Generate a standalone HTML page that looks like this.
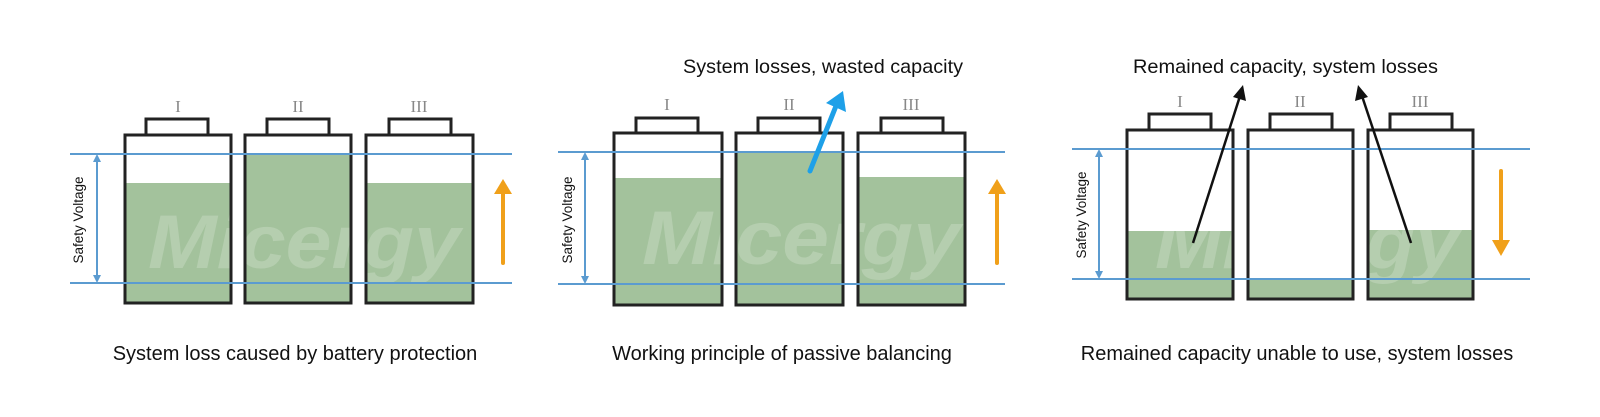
<!DOCTYPE html>
<html><head><meta charset="utf-8"><style>
html,body{margin:0;padding:0;background:#fff;}
svg{display:block;}
text{font-family:"Liberation Sans",sans-serif;}
.rn{font-family:"Liberation Serif",serif;font-size:17px;fill:#888;text-anchor:middle;}
.bat{fill:none;stroke:#222;stroke-width:3;}
.fill{fill:#a3c29c;}
.bl{stroke:#5b9bd0;stroke-width:2;}
.wm{font-weight:bold;font-style:italic;font-size:76px;fill:#fff;fill-opacity:0.2;}
.cap{font-size:20px;fill:#111;text-anchor:middle;}
.sv{font-size:13.5px;fill:#111;}
</style></head><body>
<svg width="1600" height="417" viewBox="0 0 1600 417" xmlns="http://www.w3.org/2000/svg">
<defs>
<marker id="ab" markerWidth="8" markerHeight="8" refX="4" refY="4" orient="auto-start-reverse" markerUnits="userSpaceOnUse"><path d="M0,0 L8,4 L0,8 Z" fill="#5b9bd0"/></marker>
</defs>

<!-- Panel 1 -->
<rect class="fill" x="125" y="183" width="106" height="120"/>
<rect class="fill" x="245" y="154" width="106" height="149"/>
<rect class="fill" x="366" y="183" width="107" height="120"/>
<text class="wm" x="148" y="268" textLength="312" lengthAdjust="spacingAndGlyphs">Micergy</text>
<g class="bat">
<rect x="125" y="135" width="106" height="168"/><rect x="146" y="119" width="62" height="16"/>
<rect x="245" y="135" width="106" height="168"/><rect x="267" y="119" width="62" height="16"/>
<rect x="366" y="135" width="107" height="168"/><rect x="389" y="119" width="62" height="16"/>
</g>
<text class="rn" x="178" y="112">I</text><text class="rn" x="298" y="112">II</text><text class="rn" x="419" y="112">III</text>
<line class="bl" x1="70" y1="154" x2="512" y2="154"/>
<line class="bl" x1="70" y1="283" x2="512" y2="283"/>
<line class="bl" x1="97" y1="158" x2="97" y2="279" marker-start="url(#ab)" marker-end="url(#ab)"/>
<text class="sv" transform="translate(83,220) rotate(-90)" text-anchor="middle">Safety Voltage</text>
<line x1="503" y1="263" x2="503" y2="192" stroke="#f0a01a" stroke-width="4" stroke-linecap="round"/>
<path d="M494,194 L503,179 L512,194 Z" fill="#f0a01a"/>
<text class="cap" x="295" y="360">System loss caused by battery protection</text>

<!-- Panel 2 -->
<rect class="fill" x="614" y="178" width="108" height="127"/>
<rect class="fill" x="736" y="152" width="107" height="153"/>
<rect class="fill" x="858" y="177" width="107" height="128"/>
<text class="wm" x="642" y="264" textLength="318" lengthAdjust="spacingAndGlyphs">Micergy</text>
<g class="bat">
<rect x="614" y="133" width="108" height="172"/><rect x="636" y="118" width="62" height="15"/>
<rect x="736" y="133" width="107" height="172"/><rect x="758" y="118" width="62" height="15"/>
<rect x="858" y="133" width="107" height="172"/><rect x="881" y="118" width="62" height="15"/>
</g>
<text class="rn" x="667" y="110">I</text><text class="rn" x="789" y="110">II</text><text class="rn" x="911" y="110">III</text>
<line class="bl" x1="558" y1="152" x2="1005" y2="152"/>
<line class="bl" x1="558" y1="284" x2="1005" y2="284"/>
<line class="bl" x1="585" y1="156" x2="585" y2="280" marker-start="url(#ab)" marker-end="url(#ab)"/>
<text class="sv" transform="translate(572,220) rotate(-90)" text-anchor="middle">Safety Voltage</text>
<line x1="810" y1="171" x2="836" y2="106" stroke="#1ea0e8" stroke-width="5" stroke-linecap="round"/>
<path d="M826,103 L843,91 L846,112 Z" fill="#1ea0e8"/>
<line x1="997" y1="263" x2="997" y2="192" stroke="#f0a01a" stroke-width="4" stroke-linecap="round"/>
<path d="M988,194 L997,179 L1006,194 Z" fill="#f0a01a"/>
<text x="683" y="73" font-size="19.5" fill="#111" textLength="280" lengthAdjust="spacingAndGlyphs">System losses, wasted capacity</text>
<text class="cap" x="782" y="360">Working principle of passive balancing</text>

<!-- Panel 3 -->
<rect class="fill" x="1127" y="231" width="106" height="68"/>
<rect class="fill" x="1248" y="279" width="105" height="20"/>
<rect class="fill" x="1368" y="230" width="105" height="69"/>
<text class="wm" x="1155" y="268" textLength="305" lengthAdjust="spacingAndGlyphs">Micergy</text>
<g class="bat">
<rect x="1127" y="130" width="106" height="169"/><rect x="1149" y="114" width="62" height="16"/>
<rect x="1248" y="130" width="105" height="169"/><rect x="1270" y="114" width="62" height="16"/>
<rect x="1368" y="130" width="105" height="169"/><rect x="1390" y="114" width="62" height="16"/>
</g>
<text class="rn" x="1180" y="107">I</text><text class="rn" x="1300" y="107">II</text><text class="rn" x="1420" y="107">III</text>
<line class="bl" x1="1072" y1="149" x2="1530" y2="149"/>
<line class="bl" x1="1072" y1="279" x2="1530" y2="279"/>
<line class="bl" x1="1099" y1="153" x2="1099" y2="275" marker-start="url(#ab)" marker-end="url(#ab)"/>
<text class="sv" transform="translate(1086,215) rotate(-90)" text-anchor="middle">Safety Voltage</text>
<line x1="1193" y1="243" x2="1240" y2="96" stroke="#111" stroke-width="2.5"/>
<path d="M1233,97 L1243,85 L1246,101 Z" fill="#111"/>
<line x1="1411" y1="243" x2="1362" y2="96" stroke="#111" stroke-width="2.5"/>
<path d="M1355,101 L1358,85 L1368,97 Z" fill="#111"/>
<line x1="1501" y1="171" x2="1501" y2="242" stroke="#f0a01a" stroke-width="4" stroke-linecap="round"/>
<path d="M1492,240 L1501,256 L1510,240 Z" fill="#f0a01a"/>
<text x="1133" y="73" font-size="19.5" fill="#111" textLength="305" lengthAdjust="spacingAndGlyphs">Remained capacity, system losses</text>
<text class="cap" x="1297" y="360">Remained capacity unable to use, system losses</text>
</svg>
</body></html>
